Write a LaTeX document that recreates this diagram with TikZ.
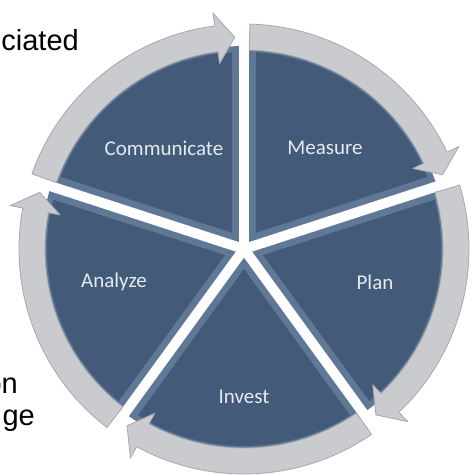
\documentclass[tikz,border=0pt]{standalone}
\usepackage{fontspec}
\setmainfont{Liberation Sans}
\newfontfamily\segfont{Carlito}
\definecolor{face}{HTML}{435B79}
\definecolor{bevel}{HTML}{5E7896}
\definecolor{ringfill}{HTML}{CACBCE}
\definecolor{ringedge}{HTML}{A6A8AD}
\definecolor{labeltext}{HTML}{E4EAF0}
\begin{document}
\begin{tikzpicture}[x=1pt,y=1pt,
  seglabel/.style={font=\segfont\fontsize{21}{25}\selectfont, text=labeltext, inner sep=0pt},
  outtext/.style={font=\fontsize{29}{33}\selectfont, text=black, inner sep=0pt},
  ringarrow/.style={fill=ringfill, draw=ringedge, line width=0.8pt, line join=round},
  gapline/.style={white, line width=10pt},
  bevelfill/.style={fill=bevel},
  facefill/.style={fill=face},
]
\useasboundingbox (-244,-226) rectangle (231,249);
\clip (-244,-226) rectangle (231,249);
% pie segments with bevel
\foreach \s in {18,90,162,234,306} {
  \pgfmathsetmacro\e{\s+72}
  \pgfmathsetmacro\sa{\s+3.5}
  \pgfmathsetmacro\ea{\e-3.5}
  \pgfmathsetmacro\bi{\s+36}
  \fill[bevelfill] (0,0) -- (\s:203pt) arc[start angle=\s, end angle=\e, radius=203pt] -- cycle;
  \fill[facefill] (\bi:20pt) -- (\sa:197pt) arc[start angle=\sa, end angle=\ea, radius=197pt] -- cycle;
}
% white gaps
\foreach \g in {18,90,162,234,306} {
  \draw[gapline] (0,0) -- (\g:245pt);
}
% ring arrows
\foreach \A in {162,90,18,-54,-126} {
  \pgfmathsetmacro\T{\A-1.5}
  \pgfmathsetmacro\H{\A-72+7.5}
  \pgfmathsetmacro\P{\A-72+2.5}
  \draw[ringarrow] (\T:199pt) -- (\T:225pt) arc[start angle=\T, end angle=\H, radius=225pt]
    -- (\H:238pt) -- (\P:212pt) -- (\H:187pt) -- (\H:199pt)
    arc[start angle=\H, end angle=\T, radius=199pt] -- cycle;
}
% labels
\node[seglabel] (communicate) at (-80,101) {Communicate};
\node[seglabel] (measure) at (81,101) {Measure};
\node[seglabel] (analyze) at (-130,-33) {Analyze};
\node[seglabel] (plan) at (131,-33) {Plan};
\node[seglabel] (invest) at (0,-148) {Invest};
% cut-off outside text
\node[outtext, anchor=base east] (ciated) at (-165,199) {ciated};
\node[outtext, anchor=base east] (on) at (-226,-144) {on};
\node[outtext, anchor=base east] (ge) at (-209,-176) {ge};
\end{tikzpicture}
\end{document}
